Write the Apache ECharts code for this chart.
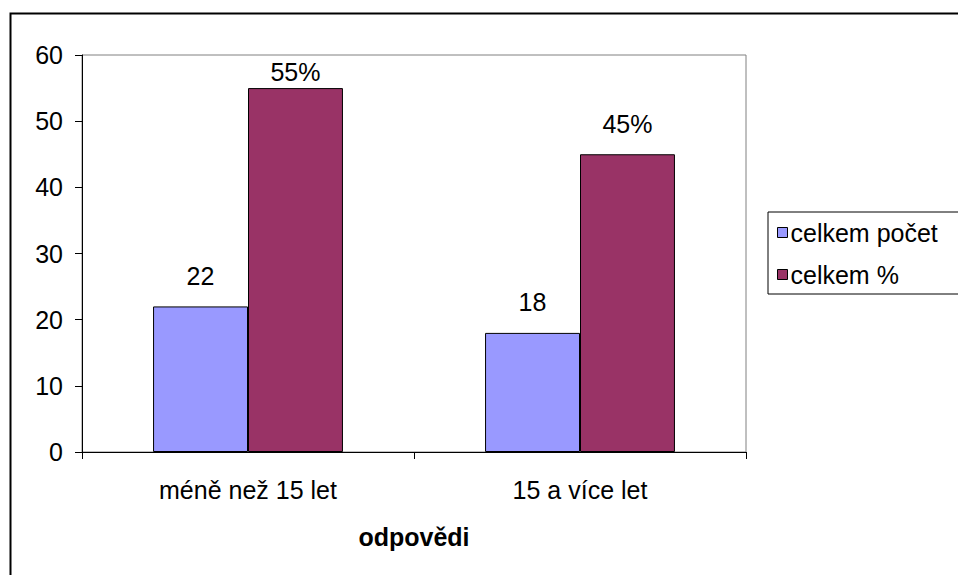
<!DOCTYPE html>
<html>
<head>
<meta charset="utf-8">
<script src="https://cdn.jsdelivr.net/npm/echarts@6/dist/echarts.min.js"></script>
<style>
  html, body { margin: 0; padding: 0; background: #fff; }
  #chart { width: 958px; height: 575px; }
</style>
</head>
<body>
<div id="chart"></div>
<script>
// Categories and values
const categories = ['méně než 15 let', '15 a více let'];
const countValues = [22, 18];      // celkem počet
const percentValues = [55, 45];    // celkem %
const seriesNames = ['celkem počet', 'celkem %'];
const axisName = 'odpovědi';
const yMin = 0, yMax = 60, yStep = 10;

const FONT = '"Liberation Sans", Arial, sans-serif';
const FS = 25;

// plot box in pixels
const plotTop = 55, plotBottom = 452;
const pxPerUnit = (plotBottom - plotTop) / (yMax - yMin);

// keep value labels inside the plot area, as the label for a tall bar
// would otherwise run past the top edge
function labelDistance(v) {
  const room = (yMax - v) * pxPerUnit - FS - 4;
  return Math.max(2, Math.min(18, room));
}

function buildData(values) {
  return values.map(v => ({
    value: v,
    label: { distance: labelDistance(v) }
  }));
}

const chart = echarts.init(document.getElementById('chart'), null, { renderer: 'svg' });

chart.setOption({
  animation: false,
  backgroundColor: '#ffffff',
  textStyle: { fontFamily: FONT },
  graphic: [{
    type: 'rect',
    shape: { x: 10.5, y: 13.5, width: 1200, height: 1000 },
    style: { fill: 'none', stroke: '#000', lineWidth: 2 },
    silent: true,
    z: 100
  }],
  grid: {
    left: 82, right: 212, top: plotTop, bottom: 575 - plotBottom,
    show: true,
    borderColor: '#808080',
    borderWidth: 1,
    backgroundColor: 'transparent',
    containLabel: false,
    outerBoundsMode: 'none'
  },
  legend: {
    orient: 'vertical',
    left: 768,
    top: 212,
    padding: [8, 40, 7, 9],
    borderColor: '#000',
    borderWidth: 1,
    itemWidth: 10,
    itemHeight: 10,
    itemGap: 17,
    icon: 'rect',
    itemStyle: { borderColor: '#000', borderWidth: 1 },
    textStyle: { fontFamily: FONT, fontSize: FS, color: '#000', padding: [0, 0, 0, -2] },
    data: seriesNames
  },
  xAxis: {
    type: 'category',
    data: categories,
    name: axisName,
    nameLocation: 'middle',
    nameGap: 72,
    nameTextStyle: { fontFamily: FONT, fontSize: FS, fontWeight: 'bold', color: '#000' },
    axisLine: { show: true, lineStyle: { color: '#000', width: 1 } },
    axisTick: { show: true, length: 7, lineStyle: { color: '#000' } },
    axisLabel: { fontFamily: FONT, fontSize: FS, color: '#000', margin: 25 },
    splitLine: { show: false }
  },
  yAxis: {
    type: 'value',
    min: yMin, max: yMax, interval: yStep,
    axisLine: { show: true, lineStyle: { color: '#000', width: 1 } },
    axisTick: { show: true, length: 7, lineStyle: { color: '#000' } },
    axisLabel: { fontFamily: FONT, fontSize: FS, color: '#000', margin: 19 },
    splitLine: { show: false }
  },
  series: [
    {
      name: seriesNames[0],
      type: 'bar',
      data: buildData(countValues),
      barWidth: '28.6%',
      barGap: '0%',
      itemStyle: { color: '#9999FF', borderColor: '#000', borderWidth: 1 },
      label: {
        show: true, position: 'top',
        fontFamily: FONT, fontSize: FS, color: '#000',
        formatter: p => String(p.value)
      }
    },
    {
      name: seriesNames[1],
      type: 'bar',
      data: buildData(percentValues),
      barWidth: '28.6%',
      barGap: '0%',
      itemStyle: { color: '#993366', borderColor: '#000', borderWidth: 1 },
      label: {
        show: true, position: 'top',
        fontFamily: FONT, fontSize: FS, color: '#000',
        formatter: p => p.value + '%'
      }
    }
  ]
});
</script>
</body>
</html>
